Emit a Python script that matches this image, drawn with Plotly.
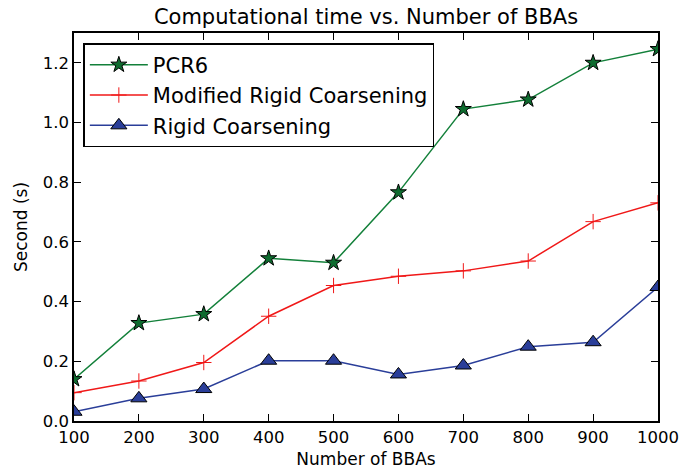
import plotly.graph_objects as go

# Number of BBAs on the x axis
n_bbas = [100, 200, 300, 400, 500, 600, 700, 800, 900, 1000]

# Computational time (seconds) per method
pcr6 = [0.14, 0.328, 0.358, 0.545, 0.530, 0.766, 1.045, 1.077, 1.200, 1.246]
modified_rigid = [0.095, 0.134, 0.196, 0.351, 0.454, 0.485, 0.503, 0.536, 0.668, 0.731]
rigid = [0.031, 0.076, 0.107, 0.202, 0.202, 0.156, 0.186, 0.249, 0.264, 0.449]

x_ticks = [100, 200, 300, 400, 500, 600, 700, 800, 900, 1000]
y_ticks = [0.0, 0.2, 0.4, 0.6, 0.8, 1.0, 1.2]
y_tick_text = ["0.0", "0.2", "0.4", "0.6", "0.8", "1.0", "1.2"]

FONT = "DejaVu Sans"

fig = go.Figure()
fig.add_trace(go.Scatter(
    x=n_bbas, y=pcr6, name="PCR6", mode="lines+markers",
    line=dict(color="#13803a", width=1.5),
    marker=dict(symbol="star", size=12, color="#0e6b2f",
                line=dict(color="black", width=1)),
))
fig.add_trace(go.Scatter(
    x=n_bbas, y=modified_rigid, name="Modified Rigid Coarsening", mode="lines+markers",
    line=dict(color="#f01818", width=1.5),
    marker=dict(symbol="cross-thin", size=11, color="#f01818",
                line=dict(color="#f01818", width=1)),
))
fig.add_trace(go.Scatter(
    x=n_bbas, y=rigid, name="Rigid Coarsening", mode="lines+markers",
    line=dict(color="#2a3e99", width=1.5),
    marker=dict(symbol="triangle-up", size=14, color="#2a3e99",
                line=dict(color="black", width=1)),
))

axis_common = dict(
    showline=True, linecolor="black", linewidth=1.5, mirror="allticks",
    ticks="inside", ticklen=7, tickwidth=1, tickcolor="black",
    showgrid=False, zeroline=False, automargin=False,
    tickfont=dict(family=FONT, size=16.5, color="black"),
)

fig.update_layout(
    width=679, height=469,
    margin=dict(l=74, r=21, t=33, b=48),
    paper_bgcolor="white", plot_bgcolor="white",
    title=dict(text="Computational time vs. Number of BBAs",
               font=dict(family=FONT, size=21, color="black"),
               x=0.5, xanchor="center", xref="paper", y=0.965, yanchor="middle"),
    xaxis=dict(range=[100, 1000], tickvals=x_ticks,
               title=dict(text="Number of BBAs", font=dict(family=FONT, size=17, color="black"),
                          standoff=9),
               **axis_common),
    yaxis=dict(range=[0, 1.3], tickvals=y_ticks, ticktext=y_tick_text,
               title=dict(text="Second (s)", font=dict(family=FONT, size=17, color="black"),
                          standoff=11),
               **axis_common),
    legend=dict(x=0.016, y=0.974, xanchor="left", yanchor="top",
                bgcolor="white", bordercolor="black", borderwidth=1.5,
                font=dict(family=FONT, size=21, color="black"),
                tracegroupgap=0, itemwidth=58),
    showlegend=True,
)

fig.write_html("out.html")
